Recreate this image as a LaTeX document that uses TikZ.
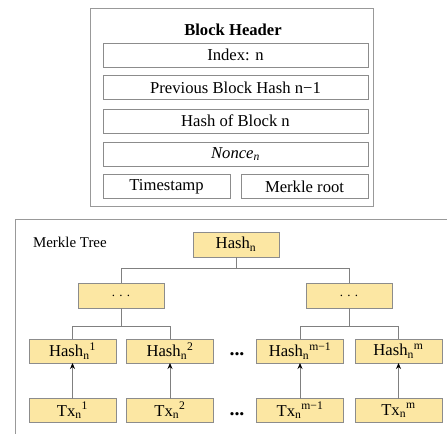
\documentclass[tikz,border=0pt]{standalone}
\usepackage{fontspec}
\setmainfont{Liberation Serif}
\usetikzlibrary{arrows.meta}
\definecolor{boxfill}{RGB}{252,231,163}
\colorlet{boxline}{black!45}
\colorlet{frameline}{black!40}
\colorlet{wire}{black!50}
\begin{document}
\begin{tikzpicture}[
  txt/.style={font=\fontsize{16.7}{19}\selectfont, inner sep=0pt, outer sep=0pt},
  field/.style={txt, draw=boxline, line width=0.8pt, minimum height=24bp},
  hashbox/.style={txt, draw=boxline, line width=0.8pt, fill=boxfill, minimum width=87bp, minimum height=24bp},
  link/.style={draw=wire, line width=0.8pt},
  uplink/.style={draw=wire, line width=0.8pt, -{Stealth[length=6pt,width=5pt,color=black]}},
  gap/.style={txt, font=\fontsize{20}{22}\selectfont\bfseries}
]
\begin{scope}[x=1bp,y=1bp]
\useasboundingbox (0,0) rectangle (447,-434);

% block header
\draw[frameline, line width=0.8pt] (90,-8) rectangle (373,-206);
\node[txt, font=\fontsize{16.7}{19}\selectfont\bfseries] (title) at (233,-30) {Block Header};
\node[field, minimum width=265bp] (index) at (235.5,-55) {Index: n};
\node[field, minimum width=265bp] (prev) at (235.5,-87.5) {Previous Block Hash n−1};
\node[field, minimum width=265bp] (own) at (235.5,-121) {Hash of Block n};
\node[field, minimum width=265bp] (nonce) at (235.5,-154) {\textit{Nonce\textsubscript{n}}};
\node[field, minimum width=127bp] (time) at (166.5,-186.5) {Timestamp};
\node[field, minimum width=127bp] (mroot) at (304.5,-186.5) {Merkle root};

% merkle tree frame
\draw[frameline, line width=0.8pt] (447,-219) -- (15,-219) -- (15,-434);
\node[txt, font=\fontsize{15}{18}\selectfont, anchor=west] (mlabel) at (33,-242) {Merkle Tree};

% tree levels
\node[hashbox, minimum width=86bp, minimum height=25bp] (root) at (236,-244.5) {Hash\textsubscript{n}};
\node[hashbox, minimum width=86bp, minimum height=25bp] (midL) at (121,-295.5) {\fontsize{13}{14}\selectfont\raisebox{-3pt}{. . .}};
\node[hashbox, minimum width=86bp, minimum height=25bp] (midR) at (349,-295.5) {\fontsize{13}{14}\selectfont\raisebox{-3pt}{. . .}};

\node[hashbox] (h1) at (72.5,-351) {Hash\textsubscript{n}\textsuperscript{1}};
\node[hashbox] (h2) at (170,-351) {Hash\textsubscript{n}\textsuperscript{2}};
\node[hashbox] (h3) at (300,-351) {Hash\textsubscript{n}\textsuperscript{m−1}};
\node[hashbox] (h4) at (398.5,-351) {Hash\textsubscript{n}\textsuperscript{m}};

\node[hashbox] (t1) at (72.5,-410.5) {Tx\textsubscript{n}\textsuperscript{1}};
\node[hashbox] (t2) at (170,-410.5) {Tx\textsubscript{n}\textsuperscript{2}};
\node[hashbox] (t3) at (300,-410.5) {Tx\textsubscript{n}\textsuperscript{m−1}};
\node[hashbox] (t4) at (398.5,-410.5) {Tx\textsubscript{n}\textsuperscript{m}};

\node[gap] (dots1) at (237,-354) {...};
\node[gap] (dots2) at (237,-414) {...};

% branches
\coordinate (j0) at (236,-268);
\coordinate (jL) at (121,-326);
\coordinate (jR) at (349,-326);
\draw[link] (root.south) -- (j0) -| (midL.north);
\draw[link] (j0) -| (midR.north);
\draw[link] (midL.south) -- (jL) -| (h1.north);
\draw[link] (jL) -| (h2.north);
\draw[link] (midR.south) -- (jR) -| (h3.north);
\draw[link] (jR) -| (h4.north);

% leaf hashing
\draw[uplink] (t1.north) -- (h1.south);
\draw[uplink] (t2.north) -- (h2.south);
\draw[uplink] (t3.north) -- (h3.south);
\draw[uplink] (t4.north) -- (h4.south);
\end{scope}
\end{tikzpicture}
\end{document}
